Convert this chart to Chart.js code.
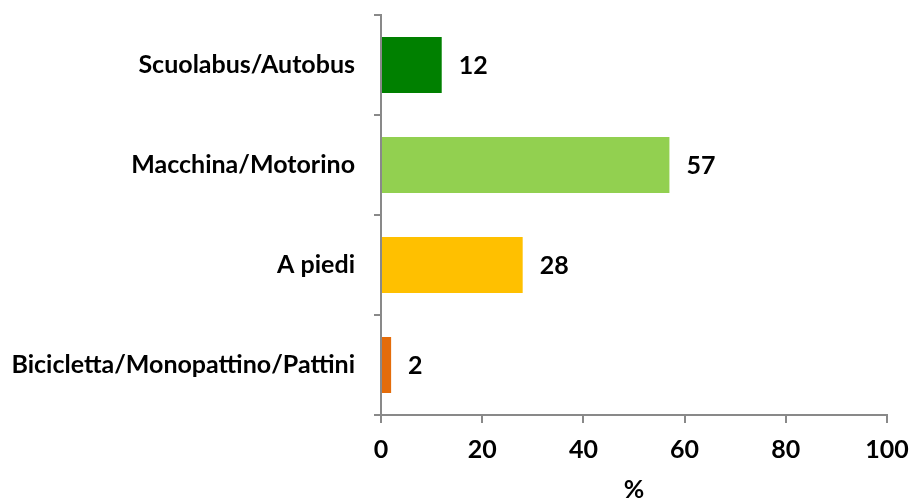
<!DOCTYPE html>
<html lang="it">
<head>
<meta charset="UTF-8">
<title>Mezzo di trasporto</title>
<script src="https://cdn.jsdelivr.net/npm/chart.js@4"></script>
<style>
  html, body { margin: 0; padding: 0; background: #fff; }
  #wrap { width: 914px; height: 500px; }
</style>
</head>
<body>
<div id="wrap"><canvas id="chart" width="914" height="500"></canvas></div>
<script>
const categories = ["Scuolabus/Autobus", "Macchina/Motorino", "A piedi", "Bicicletta/Monopattino/Pattini"];
const values = [12, 57, 28, 2];
const barColors = ["#008000", "#92d050", "#ffc000", "#e46c0a"];
const xTicks = [0, 20, 40, 60, 80, 100];

const FONT = "Lato, 'Open Sans', sans-serif";
const AXIS = "#898989";

// etichette dei valori accanto alle barre
const valueLabels = {
  id: "valueLabels",
  afterDatasetsDraw(chart) {
    const ctx = chart.ctx;
    const meta = chart.getDatasetMeta(0);
    ctx.save();
    ctx.font = "bold 25px " + FONT;
    ctx.fillStyle = "#000";
    ctx.textAlign = "left";
    ctx.textBaseline = "middle";
    meta.data.forEach((bar, i) => {
      ctx.fillText(String(values[i]), bar.x + 17, bar.y + 1);
    });
    ctx.restore();
  }
};

new Chart(document.getElementById("chart"), {
  type: "bar",
  data: {
    labels: categories,
    datasets: [{
      data: values,
      backgroundColor: barColors,
      borderWidth: 0,
      categoryPercentage: 1,
      barPercentage: 0.56
    }]
  },
  options: {
    indexAxis: "y",
    responsive: false,
    animation: false,
    layout: { padding: { top: 15, right: 27, left: 0, bottom: 0 } },
    plugins: { legend: { display: false }, tooltip: { enabled: false } },
    scales: {
      x: {
        min: 0, max: 100,
        afterBuildTicks: (s) => { s.ticks = xTicks.map(v => ({ value: v })); },
        afterFit: (s) => { s.height = 85; s.paddingLeft = 0; s.paddingRight = 0; },
        border: { color: AXIS, width: 2 },
        grid: { drawOnChartArea: false, color: AXIS, lineWidth: 2, tickLength: 8 },
        ticks: { color: "#000", padding: 12, font: { family: FONT, size: 25, weight: "bold" } },
        title: { display: true, text: "%", color: "#000", padding: { top: 0, bottom: 0 },
                 font: { family: FONT, size: 25, weight: "bold", lineHeight: 0.8 } }
      },
      y: {
        afterFit: (s) => { s.width = 381; s.paddingTop = 0; s.paddingBottom = 0; },
        border: { color: AXIS, width: 2 },
        grid: { offset: true, drawOnChartArea: false, color: AXIS, lineWidth: 2, tickLength: 7 },
        ticks: { color: "#000", padding: 19, font: { family: FONT, size: 25, weight: "bold" } }
      }
    }
  },
  plugins: [valueLabels]
});
</script>
</body>
</html>
